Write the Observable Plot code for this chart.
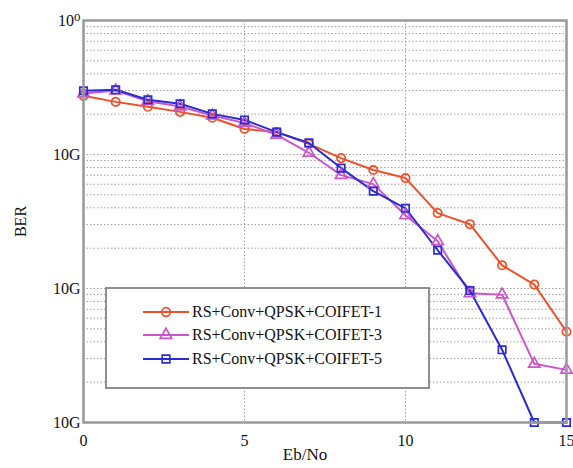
<!DOCTYPE html>
<html>
<head>
<meta charset="utf-8">
<script src="https://cdn.jsdelivr.net/npm/d3@7"></script>
<script src="https://cdn.jsdelivr.net/npm/@observablehq/plot@0.6"></script>
<style>
  html, body { margin: 0; padding: 0; background: #fff; }
  #wrap { position: relative; width: 573px; height: 468px; font-family: "Liberation Serif", "Tinos", "DejaVu Serif", serif; }
  #wrap svg text { font-family: "Liberation Serif", "Tinos", "DejaVu Serif", serif !important; }
  #legend { position: absolute; left: 105px; top: 287px; width: 321px; height: 98px; border: 2px solid #8f8f8f; background: #fff; }
  .row { position: absolute; left: 0; height: 20px; display: flex; align-items: center; font-size: 16px; color: #111; font-family: "Liberation Serif", "Tinos", "DejaVu Serif", serif; white-space: nowrap; }
  .row svg { margin-left: 36px; margin-right: 3px; }
  #xlabel { position: absolute; left: 255px; width: 100px; top: 445px; text-align: center; font-size: 17px; color: #111; }
</style>
</head>
<body>
<div id="wrap"></div>
<script>
const ebno = [0, 1, 2, 3, 4, 5, 6, 7, 8, 9, 10, 11, 12, 13, 14, 15];
const coifet1 = [0.274, 0.247, 0.227, 0.208, 0.188, 0.155, 0.147, 0.120, 0.094, 0.0766, 0.0667, 0.0365, 0.0302, 0.0149, 0.0107, 0.00476];
const coifet3 = [0.285, 0.300, 0.250, 0.228, 0.195, 0.172, 0.140, 0.103, 0.0702, 0.0601, 0.0352, 0.0225, 0.0092, 0.0090, 0.00274, 0.00247];
const coifet5 = [0.299, 0.304, 0.256, 0.239, 0.201, 0.181, 0.147, 0.122, 0.0792, 0.0533, 0.0397, 0.0193, 0.00966, 0.00349, 0.001, 0.001];
const seriesNames = ["RS+Conv+QPSK+COIFET-1", "RS+Conv+QPSK+COIFET-3", "RS+Conv+QPSK+COIFET-5"];
const seriesColors = ["#f0502a", "#cc55cc", "#2b2bd6"];
const seriesSymbols = ["circle", "triangle", "square"];
const xTicks = [0, 5, 10, 15];
const yTicks = [1, 0.1, 0.01, 0.001];
const yTickLabels = ["10\u2070", "10G", "10G", "10G"];
const xLabel = "Eb/No";
const yLabel = "BER";
const xGrid = [5, 10];
const yGrid = [0.002,0.003,0.004,0.005,0.006,0.007,0.008,0.009,0.01,0.02,0.03,0.04,0.05,0.06,0.07,0.08,0.09,0.1,0.2,0.3,0.4,0.5,0.6,0.7,0.8,0.9];

const allSeries = [coifet1, coifet3, coifet5];
const rows = [];
allSeries.forEach((vals, s) => vals.forEach((v, i) => rows.push({x: ebno[i], y: v, s: seriesNames[s]})));

const plot = Plot.plot({
  width: 573,
  height: 468,
  marginLeft: 83,
  marginRight: 7,
  marginTop: 20,
  marginBottom: 46,
  style: "font-family: 'Liberation Serif', 'Tinos', 'DejaVu Serif', serif; font-size: 16px; color: #111; background: #fff;",
  x: { domain: [0, 15], ticks: xTicks, tickSize: 0, tickPadding: 12, label: null },
  y: { type: "log", domain: [0.001, 1], ticks: yTicks, tickFormat: (d) => yTickLabels[yTicks.indexOf(d)], tickSize: 0, tickPadding: 3, label: yLabel, labelAnchor: "center", labelArrow: "none", labelOffset: 69 },
  color: { domain: seriesNames, range: seriesColors },
  symbol: { domain: seriesNames, range: seriesSymbols },
  marks: [
    Plot.ruleY(yGrid, { stroke: "#a0a0a0", strokeWidth: 1, strokeDasharray: "1.5,2" }),
    Plot.ruleX(xGrid, { stroke: "#a0a0a0", strokeWidth: 1, strokeDasharray: "1.5,2" }),
    Plot.line(rows, { x: "x", y: "y", z: "s", stroke: "s", strokeWidth: 2 }),
    Plot.dot(rows, { x: "x", y: "y", stroke: "s", symbol: "s", r: 4.2, strokeWidth: 1.7, fill: "none" }),
    Plot.frame({ stroke: "#999", strokeWidth: 2.5 })
  ]
});
const wrap = document.getElementById("wrap");
wrap.appendChild(plot);

const xl = document.createElement("div");
xl.id = "xlabel";
xl.textContent = xLabel;
wrap.appendChild(xl);

const legend = document.createElement("div");
legend.id = "legend";
const ys = [23, 46, 70];
seriesNames.forEach((name, i) => {
  const row = document.createElement("div");
  row.className = "row";
  row.style.top = (ys[i] - 10) + "px";
  const sym = d3.symbol(i === 0 ? d3.symbolCircle : i === 1 ? d3.symbolTriangle : d3.symbolSquare, 58)();
  row.innerHTML = `<svg width="46" height="20"><line x1="0" x2="46" y1="10" y2="10" stroke="${seriesColors[i]}" stroke-width="2"/><path transform="translate(23,10)" d="${sym}" fill="none" stroke="${seriesColors[i]}" stroke-width="1.7"/></svg><span>${name}</span>`;
  legend.appendChild(row);
});
wrap.appendChild(legend);
</script>
</body>
</html>
